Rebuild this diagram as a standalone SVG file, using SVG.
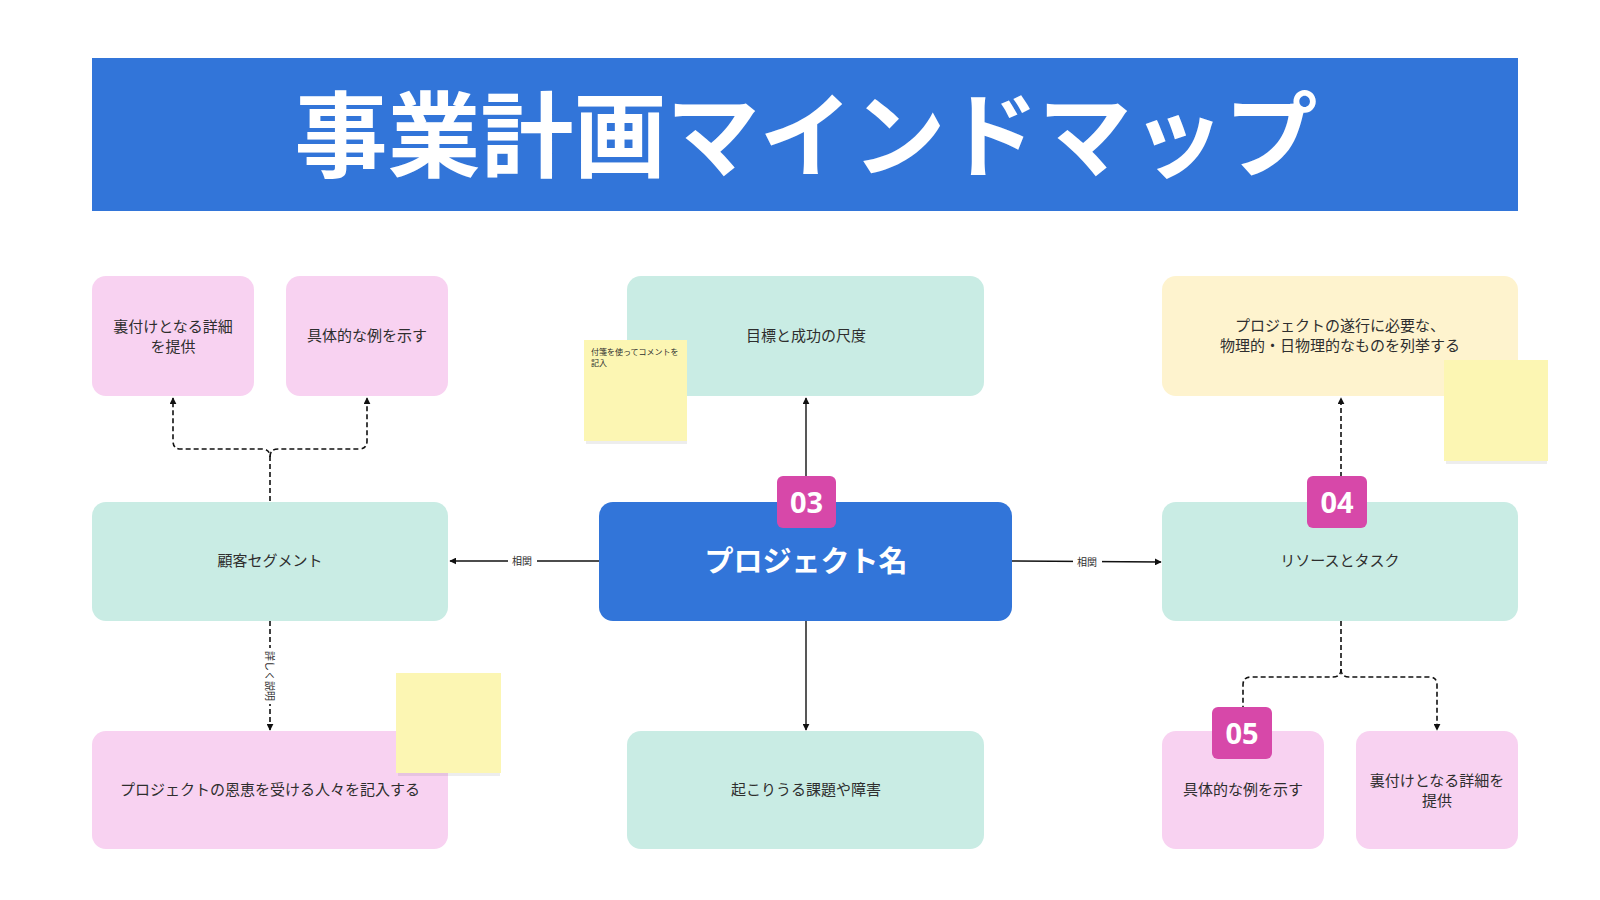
<svg xmlns="http://www.w3.org/2000/svg" width="1600" height="900" viewBox="0 0 1600 900">
<defs>
<style>
.t{font-family:"Noto Sans CJK JP","Noto Sans",sans-serif;font-size:15px;fill:#2e2e2e;text-anchor:middle;dominant-baseline:central}
.lbl{font-family:"Noto Sans CJK JP","Noto Sans",sans-serif;font-size:10px;fill:#2e2e2e;text-anchor:middle;dominant-baseline:central}
.pink{fill:#F8D2F1}
.mint{fill:#C9ECE4}
.cream{fill:#FEF3CE}
.blue{fill:#3275D9}
.badge{fill:#D748A9}
.bt{font-family:"Open Sans","Noto Sans",sans-serif;font-weight:700;font-size:29px;fill:#fff;text-anchor:middle;dominant-baseline:central}
.sticky{fill:#FCF6B3}
.shadow{fill:#000;opacity:0.07}
.solid{fill:none;stroke:#111;stroke-width:1.4}
.dash{fill:none;stroke:#111;stroke-width:1.6;stroke-dasharray:5 3}
</style>
<marker id="ah" viewBox="0 0 10 10" refX="9" refY="5" markerWidth="7" markerHeight="7" markerUnits="userSpaceOnUse" orient="auto">
<path d="M0,0 L10,5 L0,10 z" fill="#111"/>
</marker>
</defs>
<rect width="1600" height="900" fill="#fff"/>

<g id="title">
<rect x="92" y="58" width="1426" height="153" class="blue"/>
<text x="806" y="129" font-family="Noto Sans CJK JP, sans-serif" font-weight="700" font-size="93" fill="#fff" text-anchor="middle" dominant-baseline="central">事業計画マインドマップ</text>
</g>

<g id="connectors">
<path class="dash" d="M270,501 L270,457 Q270,449 262,449 L181,449 Q173,449 173,441 L173,398" marker-end="url(#ah)"/>
<path class="dash" d="M270,457 Q270,449 278,449 L359,449 Q367,449 367,441 L367,398" marker-end="url(#ah)"/>
<path class="solid" d="M806,501 L806,398" marker-end="url(#ah)"/>
<path class="solid" d="M806,621 L806,730" marker-end="url(#ah)"/>
<path class="solid" d="M599,561 L450,561" marker-end="url(#ah)"/>
<rect x="508" y="554" width="29" height="14" fill="#fff"/>
<text class="lbl" x="522" y="560">相関</text>
<path class="solid" d="M1012,561 L1161,562" marker-end="url(#ah)"/>
<rect x="1073" y="555" width="29" height="14" fill="#fff"/>
<text class="lbl" x="1087" y="561">相関</text>
<path class="dash" d="M1341,501 L1341,398" marker-end="url(#ah)"/>
<path class="dash" d="M1341,621 L1341,669 Q1341,677 1333,677 L1251,677 Q1243,677 1243,685 L1243,708"/>
<path class="dash" d="M1341,669 Q1341,677 1349,677 L1429,677 Q1437,677 1437,685 L1437,730" marker-end="url(#ah)"/>
<path class="dash" d="M270,621 L270,730" marker-end="url(#ah)"/>
<rect x="263" y="648" width="14" height="56" fill="#fff"/>
<text class="lbl" x="270" y="676" transform="rotate(90 270 676)">詳しく説明</text>
</g>

<g id="node-evidence-left">
<rect x="92" y="276" width="162" height="120" rx="14" class="pink"/>
<text class="t" x="173" y="325">裏付けとなる詳細</text>
<text class="t" x="173" y="345">を提供</text>
</g>
<g id="node-example-left">
<rect x="286" y="276" width="162" height="120" rx="14" class="pink"/>
<text class="t" x="367" y="334">具体的な例を示す</text>
</g>
<g id="node-goals">
<rect x="627" y="276" width="357" height="120" rx="14" class="mint"/>
<text class="t" x="806" y="334">目標と成功の尺度</text>
</g>
<g id="node-resources-list">
<rect x="1162" y="276" width="356" height="120" rx="14" class="cream"/>
<text class="t" x="1340" y="324">プロジェクトの遂行に必要な、</text>
<text class="t" x="1340" y="344">物理的・日物理的なものを列挙する</text>
</g>
<g id="node-customer">
<rect x="92" y="502" width="356" height="119" rx="14" class="mint"/>
<text class="t" x="270" y="559">顧客セグメント</text>
</g>
<g id="node-project">
<rect x="599" y="502" width="413" height="119" rx="14" class="blue"/>
<text x="806" y="559" font-family="Noto Sans CJK JP, sans-serif" font-weight="700" font-size="29" fill="#fff" text-anchor="middle" dominant-baseline="central">プロジェクト名</text>
</g>
<g id="node-resources">
<rect x="1162" y="502" width="356" height="119" rx="14" class="mint"/>
<text class="t" x="1340" y="559">リソースとタスク</text>
</g>
<g id="node-beneficiaries">
<rect x="92" y="731" width="356" height="118" rx="14" class="pink"/>
<text class="t" x="270" y="788">プロジェクトの恩恵を受ける人々を記入する</text>
</g>
<g id="node-obstacles">
<rect x="627" y="731" width="357" height="118" rx="14" class="mint"/>
<text class="t" x="806" y="788">起こりうる課題や障害</text>
</g>
<g id="node-example-right">
<rect x="1162" y="731" width="162" height="118" rx="14" class="pink"/>
<text class="t" x="1243" y="788">具体的な例を示す</text>
</g>
<g id="node-evidence-right">
<rect x="1356" y="731" width="162" height="118" rx="14" class="pink"/>
<text class="t" x="1437" y="779">裏付けとなる詳細を</text>
<text class="t" x="1437" y="799">提供</text>
</g>

<g id="badge-03">
<rect x="777" y="476" width="59" height="52" rx="6" class="badge"/>
<text class="bt" x="806.5" y="501">03</text>
</g>
<g id="badge-04">
<rect x="1307" y="476" width="60" height="52" rx="6" class="badge"/>
<text class="bt" x="1337" y="501">04</text>
</g>
<g id="badge-05">
<rect x="1212" y="707" width="60" height="52" rx="6" class="badge"/>
<text class="bt" x="1242" y="732">05</text>
</g>

<g id="sticky-1">
<rect x="586" y="343" width="101" height="101" class="shadow"/>
<rect x="584" y="340" width="103" height="101" class="sticky"/>
<text x="591" y="351" font-family="Noto Sans CJK JP, sans-serif" font-size="8" fill="#2e2e2e" dominant-baseline="central">付箋を使ってコメントを</text>
<text x="591" y="362" font-family="Noto Sans CJK JP, sans-serif" font-size="8" fill="#2e2e2e" dominant-baseline="central">記入</text>
</g>
<g id="sticky-2">
<rect x="1446" y="363" width="101" height="101" class="shadow"/>
<rect x="1444" y="360" width="104" height="101" class="sticky"/>
</g>
<g id="sticky-3">
<rect x="398" y="676" width="102" height="100" class="shadow"/>
<rect x="396" y="673" width="105" height="100" class="sticky"/>
</g>
</svg>
